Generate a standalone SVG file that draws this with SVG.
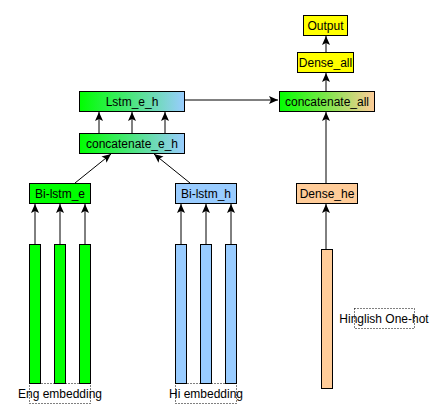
<svg xmlns="http://www.w3.org/2000/svg" width="446" height="418" viewBox="0 0 446 418">
<style>
text{font-family:"Liberation Sans",Arial,sans-serif;font-size:12px;fill:#000;text-anchor:middle}
.b{stroke:#000;stroke-width:1}
.dot{fill:none;stroke:#000;stroke-width:1;stroke-dasharray:1 2}
.c{stroke:#000;stroke-width:1;fill:none;marker-end:url(#ah)}
</style>
<defs>
<linearGradient id="gb" x1="0" x2="1" y1="0" y2="0"><stop offset="0" stop-color="#00ff00"/><stop offset="1" stop-color="#99ccff"/></linearGradient>
<linearGradient id="go" x1="0" x2="1" y1="0" y2="0"><stop offset="0" stop-color="#00ff00"/><stop offset="1" stop-color="#ffcc99"/></linearGradient>
<marker id="ah" markerWidth="10" markerHeight="10" refX="9" refY="5" orient="auto" markerUnits="userSpaceOnUse"><path d="M0,1 L9,5 L0,9 L2,5 Z" fill="#000"/></marker>
</defs>
<g id="connectors">
<line class="c" x1="35" y1="244" x2="35" y2="204"/>
<line class="c" x1="60" y1="244" x2="60" y2="204"/>
<line class="c" x1="85" y1="244" x2="85" y2="204"/>
<line class="c" x1="181" y1="244" x2="181" y2="204"/>
<line class="c" x1="206" y1="244" x2="206" y2="204"/>
<line class="c" x1="231" y1="244" x2="231" y2="204"/>
<line class="c" x1="75" y1="183" x2="111" y2="154"/>
<line class="c" x1="190" y1="183" x2="154" y2="154"/>
<line class="c" x1="99" y1="133" x2="99" y2="112"/>
<line class="c" x1="132" y1="133" x2="132" y2="112"/>
<line class="c" x1="165" y1="133" x2="165" y2="112"/>
<line class="c" x1="185" y1="100" x2="278" y2="100"/>
<line class="c" x1="326" y1="249" x2="326" y2="204"/>
<line class="c" x1="326" y1="183" x2="326" y2="112"/>
<line class="c" x1="326" y1="91" x2="326" y2="73"/>
<line class="c" x1="326" y1="52" x2="326" y2="36"/>
</g>
<g id="eng_embedding">
<rect class="dot" x="29.5" y="383.5" width="61" height="20"/>
<rect class="b" x="29.5" y="244.5" width="11" height="139" fill="#00ff00"/>
<rect class="b" x="54.5" y="244.5" width="11" height="139" fill="#00ff00"/>
<rect class="b" x="79.5" y="244.5" width="11" height="139" fill="#00ff00"/>
<text x="60" y="398">Eng embedding</text>
</g>
<g id="hi_embedding">
<rect class="dot" x="175.5" y="383.5" width="61" height="20"/>
<rect class="b" x="175.5" y="244.5" width="11" height="139" fill="#99ccff"/>
<rect class="b" x="200.5" y="244.5" width="11" height="139" fill="#99ccff"/>
<rect class="b" x="225.5" y="244.5" width="11" height="139" fill="#99ccff"/>
<text x="206" y="398">Hi embedding</text>
</g>
<g id="hinglish_onehot">
<rect class="b" x="321.5" y="249.5" width="11" height="139" fill="#ffcc99"/>
<rect class="dot" x="354.5" y="308.5" width="60" height="20"/>
<text x="384" y="323">Hinglish One-hot</text>
</g>
<g id="bi_lstm_e">
<rect class="b" x="29.5" y="183.5" width="61" height="20" fill="#00ff00"/>
<text x="60" y="198">Bi-lstm_e</text>
</g>
<g id="bi_lstm_h">
<rect class="b" x="175.5" y="183.5" width="61" height="20" fill="#99ccff"/>
<text x="206" y="198">Bi-lstm_h</text>
</g>
<g id="concatenate_e_h">
<rect class="b" x="79.5" y="133.5" width="105" height="20" fill="url(#gb)"/>
<text x="132" y="148">concatenate_e_h</text>
</g>
<g id="lstm_e_h">
<rect class="b" x="79.5" y="91.5" width="105" height="20" fill="url(#gb)"/>
<text x="132" y="106">Lstm_e_h</text>
</g>
<g id="dense_he">
<rect class="b" x="296.5" y="183.5" width="61" height="20" fill="#ffcc99"/>
<text x="327" y="198">Dense_he</text>
</g>
<g id="concatenate_all">
<rect class="b" x="279.5" y="91.5" width="95" height="20" fill="url(#go)"/>
<text x="327" y="106">concatenate_all</text>
</g>
<g id="dense_all">
<rect class="b" x="297.5" y="52.5" width="56" height="20" fill="#ffff00"/>
<text x="325.5" y="67">Dense_all</text>
</g>
<g id="output">
<rect class="b" x="303.5" y="15.5" width="44" height="20" fill="#ffff00"/>
<text x="325.5" y="30">Output</text>
</g>
</svg>
